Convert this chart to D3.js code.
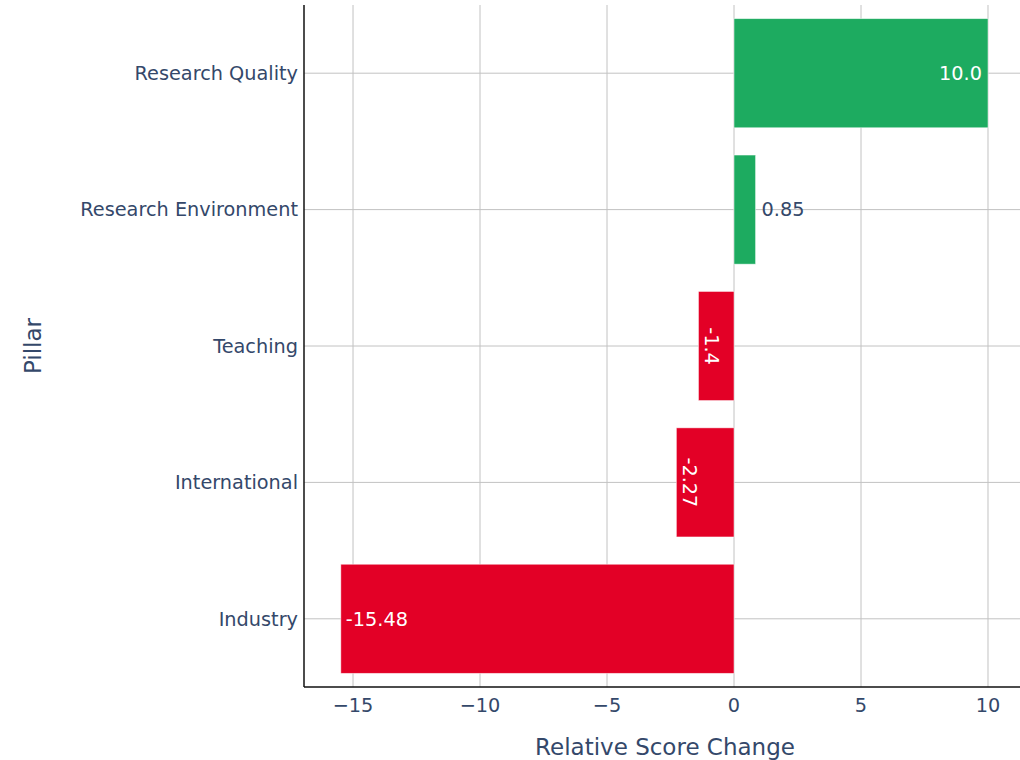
<!DOCTYPE html>
<html>
<head>
<meta charset="utf-8">
<script src="https://cdn.jsdelivr.net/npm/d3@7"></script>
<style>
  html, body { margin: 0; padding: 0; background: #fff; }
  svg { display: block; }
  text { font-family: "DejaVu Sans", Verdana, sans-serif; }
</style>
</head>
<body>
<svg id="chart" width="1020" height="760"></svg>
<script>
// Pillars, top to bottom
const pillars = ["Research Quality", "Research Environment", "Teaching", "International", "Industry"];
const changes = [10.0, 0.85, -1.4, -2.27, -15.48];
const changeLabels = ["10.0", "0.85", "-1.4", "-2.27", "-15.48"];
const xTicks = [-15, -10, -5, 0, 5, 10];

const W = 1020, H = 760;
const margin = { top: 5, right: 0, bottom: 73, left: 304 };
const plotW = W - margin.left - margin.right;
const plotH = H - margin.top - margin.bottom;

const ink = "#34486a";
const pos = "#1dab60";
const neg = "#e30026";

const svg = d3.select("#chart");
const g = svg.append("g").attr("transform", `translate(${margin.left},${margin.top})`);

const x = d3.scaleLinear().domain([-16.93, 11.26]).range([0, plotW]);
const y = d3.scaleBand().domain(pillars).range([0, plotH]).paddingInner(0.2).paddingOuter(0.1);
const yc = d => y(d) + y.bandwidth() / 2;

// gridlines
g.append("g").selectAll("line").data(xTicks).join("line")
  .attr("x1", d => x(d)).attr("x2", d => x(d))
  .attr("y1", 0).attr("y2", plotH)
  .attr("stroke", "#c2c2c2").attr("stroke-width", 1);
g.append("g").selectAll("line").data(pillars).join("line")
  .attr("x1", 0).attr("x2", plotW)
  .attr("y1", d => yc(d)).attr("y2", d => yc(d))
  .attr("stroke", "#c2c2c2").attr("stroke-width", 1);

// bars
const rows = pillars.map((p, i) => ({ p, v: changes[i], t: changeLabels[i] }));
g.append("g").selectAll("rect").data(rows).join("rect")
  .attr("x", d => x(Math.min(0, d.v)))
  .attr("width", d => Math.abs(x(d.v) - x(0)))
  .attr("y", d => y(d.p))
  .attr("height", y.bandwidth())
  .attr("fill", d => d.v >= 0 ? pos : neg)
  .attr("stroke", "rgba(255,255,255,0.6)")
  .attr("stroke-width", 0.8);

// value labels
const fs = 19.3;
rows.forEach(d => {
  const w = Math.abs(x(d.v) - x(0));
  const tmp = g.append("text").attr("font-size", fs).text(d.t);
  const tw = tmp.node().getComputedTextLength();
  tmp.remove();
  const cy = yc(d.p);
  if (tw + 10 <= w) {
    // fits horizontally inside the bar end
    const ex = x(d.v);
    g.append("text")
      .attr("x", d.v >= 0 ? ex - 6 : ex + 5)
      .attr("y", cy)
      .attr("dy", "0.35em")
      .attr("text-anchor", d.v >= 0 ? "end" : "start")
      .attr("font-size", fs)
      .attr("fill", "#fff")
      .text(d.t);
  } else if (d.v >= 0) {
    // small positive bar: label outside
    g.append("text")
      .attr("x", x(d.v) + 6)
      .attr("y", cy)
      .attr("dy", "0.35em")
      .attr("font-size", fs)
      .attr("fill", ink)
      .text(d.t);
  } else {
    // narrow negative bar: rotated label inside near bar end
    const cx = x(d.v) + 13;
    g.append("text")
      .attr("transform", `translate(${cx},${cy}) rotate(90)`)
      .attr("text-anchor", "middle")
      .attr("dy", "0.35em")
      .attr("font-size", fs)
      .attr("fill", "#fff")
      .text(d.t);
  }
});

// axes lines
g.append("line").attr("x1", 0).attr("x2", 0).attr("y1", 0).attr("y2", plotH)
  .attr("stroke", "#111").attr("stroke-width", 1.5);
g.append("line").attr("x1", 0).attr("x2", plotW).attr("y1", plotH).attr("y2", plotH)
  .attr("stroke", "#111").attr("stroke-width", 1.5);

// x tick labels
g.append("g").selectAll("text").data(xTicks).join("text")
  .attr("x", d => x(d)).attr("y", plotH + 25)
  .attr("text-anchor", "middle")
  .attr("font-size", fs)
  .attr("fill", ink)
  .text(d => d < 0 ? "\u2212" + Math.abs(d) : d);

// y tick labels
g.append("g").selectAll("text").data(pillars).join("text")
  .attr("x", -6).attr("y", d => yc(d))
  .attr("dy", "0.35em")
  .attr("text-anchor", "end")
  .attr("font-size", fs)
  .attr("fill", ink)
  .text(d => d);

// axis titles
svg.append("text")
  .attr("x", margin.left + plotW / 2 + 3).attr("y", 755)
  .attr("text-anchor", "middle")
  .attr("font-size", 23)
  .attr("fill", ink)
  .text("Relative Score Change");
svg.append("text")
  .attr("transform", `translate(41,${margin.top + plotH / 2}) rotate(-90)`)
  .attr("text-anchor", "middle")
  .attr("font-size", 23)
  .attr("fill", ink)
  .text("Pillar");
</script>
</body>
</html>
